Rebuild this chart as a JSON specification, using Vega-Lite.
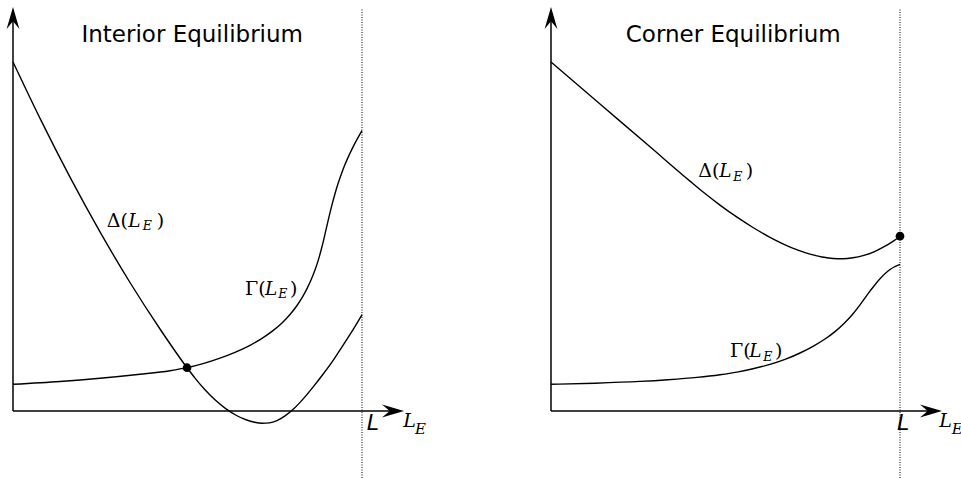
{
  "$schema": "https://vega.github.io/schema/vega-lite/v6.json",
  "padding": 0,
  "bounds": "flush",
  "background": "white",
  "config": {"view": {"stroke": null}},
  "spacing": 115,
  "data": {"values": [
    {"panel": "Interior", "kind": "axis", "x": 0, "y": 0, "x2": 1.0888, "y2": 0},
    {"panel": "Interior", "kind": "axis", "x": 0, "y": 0, "x2": 0, "y2": 1.1261},
    {"panel": "Interior", "kind": "lim", "x": 1, "y": -0.192, "x2": 1, "y2": 1.1547},
    {"panel": "Interior", "kind": "xarrow", "x": 1.0888, "y": 0},
    {"panel": "Interior", "kind": "yarrow", "x": 0, "y": 1.1261},
    {"panel": "Corner", "kind": "axis", "x": 0, "y": 0, "x2": 1.0888, "y2": 0},
    {"panel": "Corner", "kind": "axis", "x": 0, "y": 0, "x2": 0, "y2": 1.1261},
    {"panel": "Corner", "kind": "lim", "x": 1, "y": -0.192, "x2": 1, "y2": 1.1547},
    {"panel": "Corner", "kind": "xarrow", "x": 1.0888, "y": 0},
    {"panel": "Corner", "kind": "yarrow", "x": 0, "y": 1.1261},

    {"panel": "Interior", "kind": "curve", "curve": "Delta", "x": 0, "y": 1.0},
    {"panel": "Interior", "kind": "curve", "curve": "Delta", "x": 0.0774, "y": 0.8384},
    {"panel": "Interior", "kind": "curve", "curve": "Delta", "x": 0.1633, "y": 0.67},
    {"panel": "Interior", "kind": "curve", "curve": "Delta", "x": 0.2493, "y": 0.5132},
    {"panel": "Interior", "kind": "curve", "curve": "Delta", "x": 0.3352, "y": 0.3682},
    {"panel": "Interior", "kind": "curve", "curve": "Delta", "x": 0.4212, "y": 0.235},
    {"panel": "Interior", "kind": "curve", "curve": "Delta", "x": 0.4986, "y": 0.1241},
    {"panel": "Interior", "kind": "curve", "curve": "Delta", "x": 0.5215, "y": 0.0943},
    {"panel": "Interior", "kind": "curve", "curve": "Delta", "x": 0.5501, "y": 0.061},
    {"panel": "Interior", "kind": "curve", "curve": "Delta", "x": 0.5788, "y": 0.0321},
    {"panel": "Interior", "kind": "curve", "curve": "Delta", "x": 0.6103, "y": 0.006},
    {"panel": "Interior", "kind": "curve", "curve": "Delta", "x": 0.6418, "y": -0.0136},
    {"panel": "Interior", "kind": "curve", "curve": "Delta", "x": 0.6676, "y": -0.0251},
    {"panel": "Interior", "kind": "curve", "curve": "Delta", "x": 0.692, "y": -0.0324},
    {"panel": "Interior", "kind": "curve", "curve": "Delta", "x": 0.7135, "y": -0.0352},
    {"panel": "Interior", "kind": "curve", "curve": "Delta", "x": 0.735, "y": -0.0341},
    {"panel": "Interior", "kind": "curve", "curve": "Delta", "x": 0.7564, "y": -0.0275},
    {"panel": "Interior", "kind": "curve", "curve": "Delta", "x": 0.7794, "y": -0.014},
    {"panel": "Interior", "kind": "curve", "curve": "Delta", "x": 0.8052, "y": 0.0072},
    {"panel": "Interior", "kind": "curve", "curve": "Delta", "x": 0.8309, "y": 0.0341},
    {"panel": "Interior", "kind": "curve", "curve": "Delta", "x": 0.8596, "y": 0.0685},
    {"panel": "Interior", "kind": "curve", "curve": "Delta", "x": 0.8883, "y": 0.1054},
    {"panel": "Interior", "kind": "curve", "curve": "Delta", "x": 0.9169, "y": 0.1446},
    {"panel": "Interior", "kind": "curve", "curve": "Delta", "x": 0.9441, "y": 0.1862},
    {"panel": "Interior", "kind": "curve", "curve": "Delta", "x": 0.9713, "y": 0.2284},
    {"panel": "Interior", "kind": "curve", "curve": "Delta", "x": 1.0, "y": 0.2759},

    {"panel": "Interior", "kind": "curve", "curve": "Gamma", "x": 0, "y": 0.0765},
    {"panel": "Interior", "kind": "curve", "curve": "Gamma", "x": 0.1347, "y": 0.0845},
    {"panel": "Interior", "kind": "curve", "curve": "Gamma", "x": 0.2493, "y": 0.0937},
    {"panel": "Interior", "kind": "curve", "curve": "Gamma", "x": 0.3639, "y": 0.1052},
    {"panel": "Interior", "kind": "curve", "curve": "Gamma", "x": 0.4499, "y": 0.1155},
    {"panel": "Interior", "kind": "curve", "curve": "Gamma", "x": 0.4986, "y": 0.1241},
    {"panel": "Interior", "kind": "curve", "curve": "Gamma", "x": 0.5444, "y": 0.1358},
    {"panel": "Interior", "kind": "curve", "curve": "Gamma", "x": 0.5931, "y": 0.1516},
    {"panel": "Interior", "kind": "curve", "curve": "Gamma", "x": 0.6361, "y": 0.1682},
    {"panel": "Interior", "kind": "curve", "curve": "Gamma", "x": 0.6791, "y": 0.1883},
    {"panel": "Interior", "kind": "curve", "curve": "Gamma", "x": 0.7135, "y": 0.2083},
    {"panel": "Interior", "kind": "curve", "curve": "Gamma", "x": 0.745, "y": 0.2304},
    {"panel": "Interior", "kind": "curve", "curve": "Gamma", "x": 0.7708, "y": 0.2524},
    {"panel": "Interior", "kind": "curve", "curve": "Gamma", "x": 0.7937, "y": 0.2765},
    {"panel": "Interior", "kind": "curve", "curve": "Gamma", "x": 0.8138, "y": 0.3023},
    {"panel": "Interior", "kind": "curve", "curve": "Gamma", "x": 0.8309, "y": 0.3292},
    {"panel": "Interior", "kind": "curve", "curve": "Gamma", "x": 0.8438, "y": 0.3536},
    {"panel": "Interior", "kind": "curve", "curve": "Gamma", "x": 0.8539, "y": 0.3754},
    {"panel": "Interior", "kind": "curve", "curve": "Gamma", "x": 0.8653, "y": 0.404},
    {"panel": "Interior", "kind": "curve", "curve": "Gamma", "x": 0.8739, "y": 0.4295},
    {"panel": "Interior", "kind": "curve", "curve": "Gamma", "x": 0.8825, "y": 0.4599},
    {"panel": "Interior", "kind": "curve", "curve": "Gamma", "x": 0.8897, "y": 0.4883},
    {"panel": "Interior", "kind": "curve", "curve": "Gamma", "x": 0.8968, "y": 0.5192},
    {"panel": "Interior", "kind": "curve", "curve": "Gamma", "x": 0.9054, "y": 0.5564},
    {"panel": "Interior", "kind": "curve", "curve": "Gamma", "x": 0.9132, "y": 0.5877},
    {"panel": "Interior", "kind": "curve", "curve": "Gamma", "x": 0.9226, "y": 0.6226},
    {"panel": "Interior", "kind": "curve", "curve": "Gamma", "x": 0.9312, "y": 0.651},
    {"panel": "Interior", "kind": "curve", "curve": "Gamma", "x": 0.9456, "y": 0.6923},
    {"panel": "Interior", "kind": "curve", "curve": "Gamma", "x": 0.9585, "y": 0.7232},
    {"panel": "Interior", "kind": "curve", "curve": "Gamma", "x": 0.9713, "y": 0.7504},
    {"panel": "Interior", "kind": "curve", "curve": "Gamma", "x": 0.9877, "y": 0.7817},
    {"panel": "Interior", "kind": "curve", "curve": "Gamma", "x": 1.0, "y": 0.8034},

    {"panel": "Corner", "kind": "curve", "curve": "Delta", "x": 0, "y": 1.0},
    {"panel": "Corner", "kind": "curve", "curve": "Delta", "x": 0.1404, "y": 0.8797},
    {"panel": "Corner", "kind": "curve", "curve": "Delta", "x": 0.2837, "y": 0.757},
    {"panel": "Corner", "kind": "curve", "curve": "Delta", "x": 0.3983, "y": 0.6587},
    {"panel": "Corner", "kind": "curve", "curve": "Delta", "x": 0.4413, "y": 0.6232},
    {"panel": "Corner", "kind": "curve", "curve": "Delta", "x": 0.4842, "y": 0.59},
    {"panel": "Corner", "kind": "curve", "curve": "Delta", "x": 0.533, "y": 0.5553},
    {"panel": "Corner", "kind": "curve", "curve": "Delta", "x": 0.5788, "y": 0.5258},
    {"panel": "Corner", "kind": "curve", "curve": "Delta", "x": 0.6275, "y": 0.4977},
    {"panel": "Corner", "kind": "curve", "curve": "Delta", "x": 0.6676, "y": 0.4777},
    {"panel": "Corner", "kind": "curve", "curve": "Delta", "x": 0.7077, "y": 0.4607},
    {"panel": "Corner", "kind": "curve", "curve": "Delta", "x": 0.7421, "y": 0.4493},
    {"panel": "Corner", "kind": "curve", "curve": "Delta", "x": 0.7765, "y": 0.4413},
    {"panel": "Corner", "kind": "curve", "curve": "Delta", "x": 0.808, "y": 0.437},
    {"panel": "Corner", "kind": "curve", "curve": "Delta", "x": 0.8367, "y": 0.4364},
    {"panel": "Corner", "kind": "curve", "curve": "Delta", "x": 0.8653, "y": 0.439},
    {"panel": "Corner", "kind": "curve", "curve": "Delta", "x": 0.894, "y": 0.445},
    {"panel": "Corner", "kind": "curve", "curve": "Delta", "x": 0.9255, "y": 0.4562},
    {"panel": "Corner", "kind": "curve", "curve": "Delta", "x": 0.9599, "y": 0.4736},
    {"panel": "Corner", "kind": "curve", "curve": "Delta", "x": 0.9799, "y": 0.486},
    {"panel": "Corner", "kind": "curve", "curve": "Delta", "x": 1.0, "y": 0.5009},

    {"panel": "Corner", "kind": "curve", "curve": "Gamma", "x": 0, "y": 0.0765},
    {"panel": "Corner", "kind": "curve", "curve": "Gamma", "x": 0.1261, "y": 0.0797},
    {"panel": "Corner", "kind": "curve", "curve": "Gamma", "x": 0.255, "y": 0.0848},
    {"panel": "Corner", "kind": "curve", "curve": "Gamma", "x": 0.3352, "y": 0.0897},
    {"panel": "Corner", "kind": "curve", "curve": "Gamma", "x": 0.4183, "y": 0.0964},
    {"panel": "Corner", "kind": "curve", "curve": "Gamma", "x": 0.4842, "y": 0.104},
    {"panel": "Corner", "kind": "curve", "curve": "Gamma", "x": 0.533, "y": 0.1115},
    {"panel": "Corner", "kind": "curve", "curve": "Gamma", "x": 0.5788, "y": 0.1209},
    {"panel": "Corner", "kind": "curve", "curve": "Gamma", "x": 0.6275, "y": 0.1335},
    {"panel": "Corner", "kind": "curve", "curve": "Gamma", "x": 0.6705, "y": 0.1479},
    {"panel": "Corner", "kind": "curve", "curve": "Gamma", "x": 0.7135, "y": 0.1662},
    {"panel": "Corner", "kind": "curve", "curve": "Gamma", "x": 0.7507, "y": 0.1854},
    {"panel": "Corner", "kind": "curve", "curve": "Gamma", "x": 0.7851, "y": 0.2063},
    {"panel": "Corner", "kind": "curve", "curve": "Gamma", "x": 0.8138, "y": 0.2275},
    {"panel": "Corner", "kind": "curve", "curve": "Gamma", "x": 0.8424, "y": 0.2536},
    {"panel": "Corner", "kind": "curve", "curve": "Gamma", "x": 0.8625, "y": 0.2751},
    {"panel": "Corner", "kind": "curve", "curve": "Gamma", "x": 0.8854, "y": 0.3043},
    {"panel": "Corner", "kind": "curve", "curve": "Gamma", "x": 0.914, "y": 0.3433},
    {"panel": "Corner", "kind": "curve", "curve": "Gamma", "x": 0.9427, "y": 0.3791},
    {"panel": "Corner", "kind": "curve", "curve": "Gamma", "x": 0.9713, "y": 0.4056},
    {"panel": "Corner", "kind": "curve", "curve": "Gamma", "x": 1.0, "y": 0.4199},

    {"panel": "Interior", "kind": "dot", "x": 0.4986, "y": 0.1241},
    {"panel": "Corner", "kind": "dot", "x": 1.0, "y": 0.5009},

    {"panel": "Interior", "kind": "title", "text": "Interior Equilibrium", "x": 0.5135, "y": 1.0564},
    {"panel": "Corner", "kind": "title", "text": "Corner Equilibrium", "x": 0.5223, "y": 1.0564},

    {"panel": "Interior", "kind": "mu", "text": "Δ(", "x": 0.2685, "y": 0.5264},
    {"panel": "Interior", "kind": "mi", "text": "L", "x": 0.3304, "y": 0.5264},
    {"panel": "Interior", "kind": "ms", "text": "E", "x": 0.3716, "y": 0.5172},
    {"panel": "Interior", "kind": "mu", "text": ")", "x": 0.4117, "y": 0.5264},
    {"panel": "Interior", "kind": "mu", "text": "Γ(", "x": 0.6648, "y": 0.3324},
    {"panel": "Interior", "kind": "mi", "text": "L", "x": 0.7221, "y": 0.3324},
    {"panel": "Interior", "kind": "ms", "text": "E", "x": 0.7602, "y": 0.3229},
    {"panel": "Interior", "kind": "mu", "text": ")", "x": 0.7937, "y": 0.3324},
    {"panel": "Corner", "kind": "mu", "text": "Δ(", "x": 0.4221, "y": 0.6696},
    {"panel": "Corner", "kind": "mi", "text": "L", "x": 0.4822, "y": 0.6696},
    {"panel": "Corner", "kind": "ms", "text": "E", "x": 0.5223, "y": 0.6599},
    {"panel": "Corner", "kind": "mu", "text": ")", "x": 0.5579, "y": 0.6696},
    {"panel": "Corner", "kind": "mu", "text": "Γ(", "x": 0.5129, "y": 0.1539},
    {"panel": "Corner", "kind": "mi", "text": "L", "x": 0.5682, "y": 0.1539},
    {"panel": "Corner", "kind": "ms", "text": "E", "x": 0.6083, "y": 0.1441},
    {"panel": "Corner", "kind": "mu", "text": ")", "x": 0.6418, "y": 0.1539},

    {"panel": "Interior", "kind": "limlabel", "text": "L", "x": 1.0135, "y": -0.0544},
    {"panel": "Corner", "kind": "limlabel", "text": "L", "x": 0.9914, "y": -0.0544},
    {"panel": "Interior", "kind": "axl", "text": "L", "x": 1.1183, "y": -0.045},
    {"panel": "Interior", "kind": "axs", "text": "E", "x": 1.1519, "y": -0.0659},
    {"panel": "Corner", "kind": "axl", "text": "L", "x": 1.1126, "y": -0.045},
    {"panel": "Corner", "kind": "axs", "text": "E", "x": 1.1481, "y": -0.0659}
  ]},
  "facet": {"column": {"field": "panel", "type": "nominal", "sort": ["Interior", "Corner"], "header": {"title": null, "labels": false, "labelPadding": 0, "titlePadding": 0}}},
  "spec": {
    "width": 423,
    "height": 478,
    "encoding": {
      "x": {"field": "x", "type": "quantitative", "scale": {"domain": [-0.037249, 1.174785], "nice": false, "zero": false}, "axis": null},
      "y": {"field": "y", "type": "quantitative", "scale": {"domain": [-0.191977, 1.17765], "nice": false, "zero": false}, "axis": null}
    },
    "layer": [
      {
        "transform": [{"filter": "datum.kind === 'lim'"}],
        "mark": {"type": "rule", "color": "black", "strokeWidth": 1, "strokeDash": [1, 1.5]},
        "encoding": {"x2": {"field": "x2"}, "y2": {"field": "y2"}}
      },
      {
        "transform": [{"filter": "datum.kind === 'axis'"}],
        "mark": {"type": "rule", "color": "black", "strokeWidth": 1.5},
        "encoding": {"x2": {"field": "x2"}, "y2": {"field": "y2"}}
      },
      {
        "transform": [{"filter": "datum.kind === 'yarrow'"}],
        "mark": {"type": "point", "shape": "M0,-1 L0.58,1 L0,0.3 L-0.58,1 Z", "size": 484, "filled": true, "color": "black", "opacity": 1, "strokeWidth": 0}
      },
      {
        "transform": [{"filter": "datum.kind === 'xarrow'"}],
        "mark": {"type": "point", "shape": "M0,-1 L0.58,1 L0,0.3 L-0.58,1 Z", "size": 484, "angle": 90, "filled": true, "color": "black", "opacity": 1, "strokeWidth": 0}
      },
      {
        "transform": [{"filter": "datum.kind === 'curve'"}],
        "mark": {"type": "line", "color": "black", "strokeWidth": 1.4, "interpolate": "monotone"},
        "encoding": {"detail": {"field": "curve"}}
      },
      {
        "transform": [{"filter": "datum.kind === 'dot'"}],
        "mark": {"type": "point", "shape": "circle", "size": 75, "filled": true, "color": "black", "opacity": 1}
      },
      {
        "transform": [{"filter": "datum.kind === 'title'"}],
        "mark": {"type": "text", "font": "DejaVu Sans", "fontSize": 23, "align": "center", "baseline": "alphabetic", "color": "black"},
        "encoding": {"text": {"field": "text"}}
      },
      {
        "transform": [{"filter": "datum.kind === 'mu'"}],
        "mark": {"type": "text", "font": "DejaVu Serif", "fontSize": 19, "align": "left", "baseline": "alphabetic", "color": "black"},
        "encoding": {"text": {"field": "text"}}
      },
      {
        "transform": [{"filter": "datum.kind === 'mi'"}],
        "mark": {"type": "text", "font": "DejaVu Serif", "fontSize": 18.5, "fontStyle": "italic", "align": "left", "baseline": "alphabetic", "color": "black"},
        "encoding": {"text": {"field": "text"}}
      },
      {
        "transform": [{"filter": "datum.kind === 'ms'"}],
        "mark": {"type": "text", "font": "DejaVu Serif", "fontSize": 12.5, "fontStyle": "italic", "align": "left", "baseline": "alphabetic", "color": "black"},
        "encoding": {"text": {"field": "text"}}
      },
      {
        "transform": [{"filter": "datum.kind === 'limlabel'"}],
        "mark": {"type": "text", "font": "DejaVu Sans", "fontSize": 22, "fontStyle": "italic", "align": "left", "baseline": "alphabetic", "color": "black"},
        "encoding": {"text": {"field": "text"}}
      },
      {
        "transform": [{"filter": "datum.kind === 'axl'"}],
        "mark": {"type": "text", "font": "DejaVu Serif", "fontSize": 19, "fontStyle": "italic", "align": "left", "baseline": "alphabetic", "color": "black"},
        "encoding": {"text": {"field": "text"}}
      },
      {
        "transform": [{"filter": "datum.kind === 'axs'"}],
        "mark": {"type": "text", "font": "DejaVu Serif", "fontSize": 15, "fontStyle": "italic", "align": "left", "baseline": "alphabetic", "color": "black"},
        "encoding": {"text": {"field": "text"}}
      }
    ]
  }
}
